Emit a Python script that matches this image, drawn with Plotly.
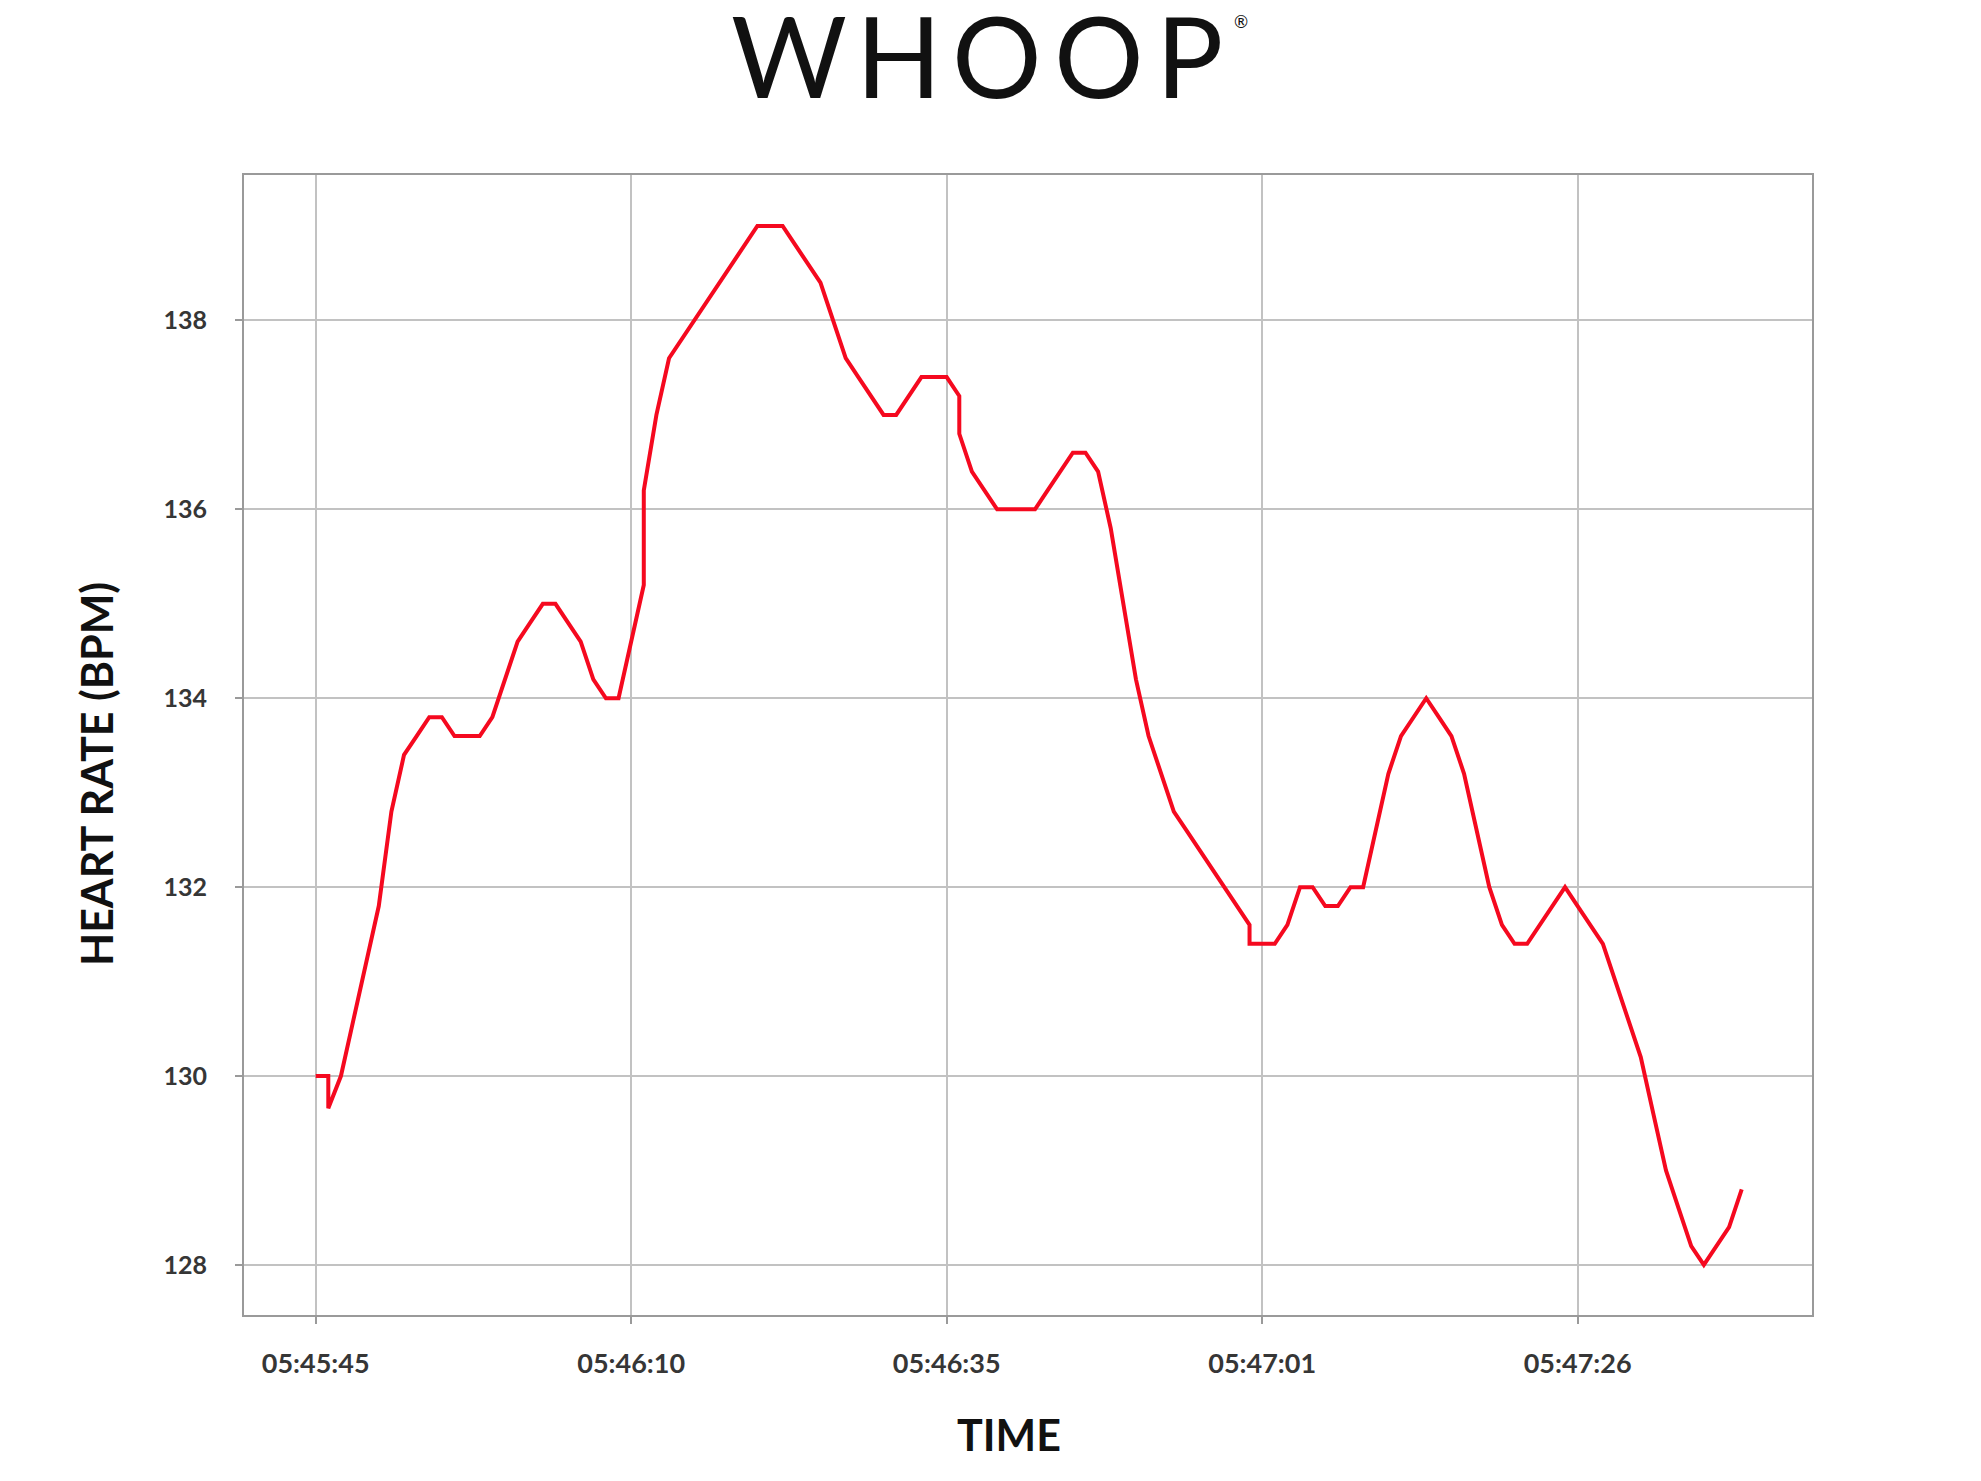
import plotly.graph_objects as go

# ---- data ----
sample_index = [0, 1, 1, 2, 3, 4, 5, 6, 7, 8, 9, 10, 11, 12, 13, 14, 15, 16, 17, 18, 19,
                20, 21, 22, 23, 24, 25, 26, 26, 27, 28, 29, 30, 31, 32, 33, 34, 35, 36, 37,
                38, 39, 40, 41, 42, 43, 44, 45, 46, 47, 48, 49, 50, 51, 51, 52, 53, 54, 55,
                56, 57, 58, 59, 60, 61, 62, 63, 64, 65, 66, 67, 68, 69, 70, 71, 72, 73, 74,
                74, 75, 76, 77, 78, 79, 80, 81, 82, 83, 84, 85, 86, 87, 88, 89, 90, 91, 92,
                93, 94, 95, 96, 97, 98, 99, 100, 101, 102, 103, 104, 105, 106, 107, 108,
                109, 110, 111, 112, 113]
heart_rate_bpm = [130.0, 130.0, 129.66, 130.0, 130.6, 131.2, 131.8, 132.8, 133.4, 133.6,
                  133.8, 133.8, 133.6, 133.6, 133.6, 133.8, 134.2, 134.6, 134.8, 135.0,
                  135.0, 134.8, 134.6, 134.2, 134.0, 134.0, 134.6, 135.2, 136.2, 137.0,
                  137.6, 137.8, 138.0, 138.2, 138.4, 138.6, 138.8, 139.0, 139.0, 139.0,
                  138.8, 138.6, 138.4, 138.0, 137.6, 137.4, 137.2, 137.0, 137.0, 137.2,
                  137.4, 137.4, 137.4, 137.2, 136.8, 136.4, 136.2, 136.0, 136.0, 136.0,
                  136.0, 136.2, 136.4, 136.6, 136.6, 136.4, 135.8, 135.0, 134.2, 133.6,
                  133.2, 132.8, 132.6, 132.4, 132.2, 132.0, 131.8, 131.6, 131.4, 131.4,
                  131.4, 131.6, 132.0, 132.0, 131.8, 131.8, 132.0, 132.0, 132.6, 133.2,
                  133.6, 133.8, 134.0, 133.8, 133.6, 133.2, 132.6, 132.0, 131.6, 131.4,
                  131.4, 131.6, 131.8, 132.0, 131.8, 131.6, 131.4, 131.0, 130.6, 130.2,
                  129.6, 129.0, 128.6, 128.2, 128.0, 128.2, 128.4, 128.8]

x_tick_positions = [0, 25, 50, 75, 100]
x_tick_labels = ["05:45:45", "05:46:10", "05:46:35", "05:47:01", "05:47:26"]
y_tick_values = [128, 130, 132, 134, 136, 138]

logo_letters = ["W", "H", "O", "O", "P"]

W, H = 1981, 1481
ML, MR, MT, MB = 236, 177, 167, 174

fig = go.Figure()
fig.add_trace(go.Scatter(
    x=sample_index, y=heart_rate_bpm, mode="lines",
    line=dict(color="#f5091f", width=4), showlegend=False, hoverinfo="skip"))

x_tick_font = dict(family="Lato, 'Open Sans', sans-serif", size=27, color="#363636", weight="bold")
y_tick_font = dict(family="Lato, 'Open Sans', sans-serif", size=25, color="#363636", weight="bold")
title_font = dict(family="Lato, 'Open Sans', sans-serif", size=43, color="#111111", weight="bold")

fig.update_layout(
    width=W, height=H,
    margin=dict(l=ML, r=MR, t=MT, b=MB),
    paper_bgcolor="white", plot_bgcolor="white",
    xaxis=dict(
        range=[-5.68, 118.57], tickmode="array", tickvals=x_tick_positions,
        ticktext=x_tick_labels, showgrid=True, gridcolor="#c2c2c2", gridwidth=2,
        zeroline=False, showline=True, linecolor="#9a9a9a", linewidth=2, mirror=True,
        ticks="outside", ticklen=7, tickcolor="#9a9a9a", tickwidth=1.5,
        tickfont=x_tick_font, ticklabelstandoff=17),
    yaxis=dict(
        range=[127.47, 139.54], tickmode="array", tickvals=y_tick_values,
        showgrid=True, gridcolor="#c2c2c2", gridwidth=2,
        zeroline=False, showline=True, linecolor="#9a9a9a", linewidth=2, mirror=True,
        ticks="outside", ticklen=7, tickcolor="#9a9a9a", tickwidth=1.5,
        tickfont=y_tick_font, ticklabelstandoff=23),
)

pw = W - ML - MR
ph = H - MT - MB


def px_to_paper_x(px):
    return (px - ML) / pw


def px_to_paper_y(py):
    return (H - MB - py) / ph


logo_font = dict(family="Lato, 'Open Sans', sans-serif", size=112, color="#111111")
logo_centers = [781, 891, 988.5, 1091, 1181]
annotations = []
for letter, cx in zip(logo_letters, logo_centers):
    annotations.append(dict(text=letter, x=px_to_paper_x(cx), y=px_to_paper_y(46),
                            xref="paper", yref="paper", xanchor="center", yanchor="middle",
                            showarrow=False, font=logo_font))
annotations += [
    dict(text="®", x=px_to_paper_x(1233), y=px_to_paper_y(14),
         xref="paper", yref="paper", xanchor="center", yanchor="middle", showarrow=False,
         font=dict(family="Lato, 'Open Sans', sans-serif", size=17, color="#111111")),
    dict(text="TIME", x=px_to_paper_x(1001), y=px_to_paper_y(1426),
         xref="paper", yref="paper", xanchor="center", yanchor="middle", showarrow=False,
         font=title_font),
    dict(text="HEART RATE (BPM)", x=px_to_paper_x(88), y=px_to_paper_y(766),
         xref="paper", yref="paper", xanchor="center", yanchor="middle", showarrow=False,
         textangle=-90, font=title_font),
]
fig.update_layout(annotations=annotations)

fig.write_html("out.html")
